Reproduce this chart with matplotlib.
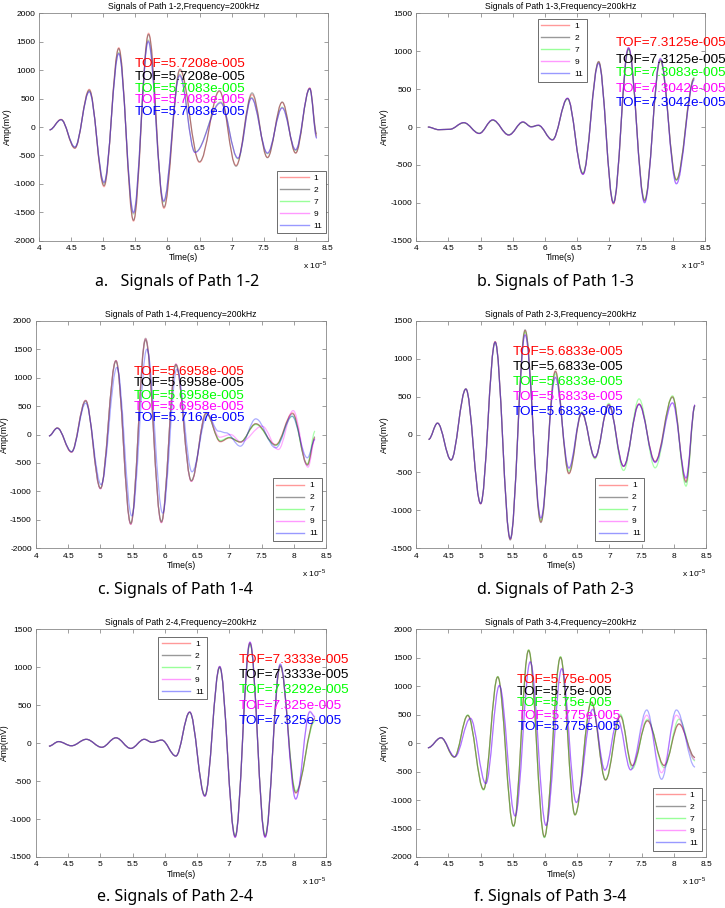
import matplotlib
matplotlib.use('Agg')
import matplotlib.pyplot as plt
from matplotlib.path import Path
from matplotlib.patches import PathPatch
from matplotlib.lines import Line2D

plt.rcParams['font.family'] = ['Liberation Sans', 'DejaVu Sans']
plt.rcParams['mathtext.fontset'] = 'custom'
plt.rcParams['mathtext.rm'] = 'Liberation Sans'

# sensor labels and colours
labels = ['1', '2', '7', '9', '11']
colors = ['#ff0000', '#000000', '#00ff00', '#ff00ff', '#0000ff']

# x ticks (x 1e-5 s)
x_ticks = [4, 4.5, 5, 5.5, 6, 6.5, 7, 7.5, 8, 8.5]
x_ticklabels = ['4', '4.5', '5', '5.5', '6', '6.5', '7', '7.5', '8', '8.5']

# ---- Path 1-2 : extrema of the signals, time in 1e-5 s, amp in mV
t12_a = [4.16, 4.34, 4.555, 4.78, 5.01, 5.24, 5.47, 5.705, 5.945, 6.195, 6.50, 6.81, 7.07, 7.32, 7.56, 7.79, 8.0, 8.22, 8.33]
t12_b = [4.16, 4.34, 4.555, 4.78, 5.01, 5.24, 5.47, 5.70, 5.94, 6.19, 6.43, 6.83, 7.10, 7.31, 7.56, 7.79, 8.0, 8.22, 8.33]
a12_1 = [-50, 135, -375, 663, -1050, 1395, -1655, 1650, -1430, 1000, -622, 628, -675, 570, -534, 434, -460, 687, -150]
a12_2 = [-50, 130, -370, 650, -1030, 1380, -1640, 1630, -1410, 1020, -610, 640, -690, 600, -540, 440, -455, 680, -120]
a12_7 = [-50, 130, -355, 630, -990, 1310, -1530, 1530, -1320, 930, -440, 440, -560, 520, -470, 350, -410, 670, -180]
a12_9 = [-50, 130, -355, 625, -985, 1300, -1520, 1520, -1310, 920, -450, 430, -550, 510, -460, 340, -400, 680, -190]
a12_11 = [-50, 128, -350, 620, -970, 1290, -1500, 1500, -1300, 900, -446, 422, -546, 505, -458, 334, -400, 675, -200]
tof12 = ['5.7208e-005', '5.7208e-005', '5.7083e-005', '5.7083e-005', '5.7083e-005']

# ---- Path 1-3
t13 = [4.18, 4.35, 4.52, 4.74, 4.98, 5.19, 5.44, 5.66, 5.79, 5.90, 6.12, 6.355, 6.595, 6.84, 7.07, 7.305, 7.555, 7.80, 8.05, 8.33]
a13_1 = [0, -35, -30, 57, -85, 92, -105, 65, 5, 22, -170, 378, -620, 860, -1015, 1040, -965, 880, -690, 640]
a13_2 = [0, -35, -30, 57, -85, 92, -105, 65, 5, 22, -170, 375, -615, 865, -1005, 1030, -975, 885, -700, 650]
a13_7 = [0, -35, -30, 55, -80, 90, -100, 62, 5, 20, -165, 370, -605, 850, -990, 1020, -960, 870, -700, 640]
a13_9 = [0, -35, -30, 58, -85, 95, -105, 68, 0, 25, -170, 380, -625, 845, -1000, 1050, -995, 900, -745, 630]
a13_11 = [0, -35, -30, 58, -85, 95, -105, 68, 0, 25, -170, 380, -625, 840, -1000, 1045, -1000, 905, -750, 620]
tof13 = ['7.3125e-005', '7.3125e-005', '7.3083e-005', '7.3042e-005', '7.3042e-005']

# ---- Path 1-4
t14_a = [4.2, 4.33, 4.55, 4.77, 5.0, 5.24, 5.47, 5.70, 5.945, 6.17, 6.41, 6.64, 6.86, 7.0, 7.17, 7.41, 7.72, 7.98, 8.21, 8.33]
t14_9 = [4.2, 4.33, 4.55, 4.77, 5.0, 5.24, 5.47, 5.70, 5.945, 6.17, 6.41, 6.64, 6.85, 7.02, 7.18, 7.51, 7.76, 7.99, 8.22, 8.33]
t14_11 = [4.2, 4.33, 4.555, 4.77, 5.01, 5.255, 5.485, 5.72, 5.965, 6.185, 6.42, 6.66, 6.83, 6.95, 7.17, 7.41, 7.72, 7.97, 8.21, 8.33]
a14_1 = [-25, 115, -310, 600, -950, 1300, -1575, 1680, -1545, 1235, -819, 380, -129, -60, -135, 187, -175, 380, -526, -60]
a14_2 = [-25, 115, -305, 590, -945, 1290, -1560, 1660, -1530, 1225, -810, 370, -120, -55, -130, 190, -185, 365, -540, -40]
a14_7 = [-25, 115, -305, 595, -945, 1295, -1570, 1690, -1540, 1230, -815, 375, -105, -50, -130, 175, -193, 320, -515, 58]
a14_9 = [-25, 115, -310, 600, -955, 1300, -1580, 1690, -1550, 1240, -825, 385, -47, 0, -130, 146, -263, 421, -573, -80]
a14_11 = [-25, 110, -300, 550, -880, 1180, -1430, 1500, -1380, 1150, -655, 350, 60, 30, -205, 275, -234, 322, -409, -88]
tof14 = ['5.6958e-005', '5.6958e-005', '5.6958e-005', '5.6958e-005', '5.7167e-005']

# ---- Path 2-3
t23 = [4.19, 4.33, 4.54, 4.77, 5.0, 5.225, 5.46, 5.69, 5.935, 6.16, 6.37, 6.57, 6.775, 6.99, 7.22, 7.46, 7.71, 7.98, 8.19, 8.33]
a23_1 = [-65, 150, -335, 600, -915, 1225, -1380, 1370, -1150, 840, -518, 285, -307, 395, -417, 404, -351, 500, -614, 386]
a23_2 = [-65, 150, -335, 600, -910, 1220, -1390, 1380, -1160, 830, -510, 280, -300, 390, -420, 400, -360, 490, -630, 380]
a23_7 = [-65, 150, -335, 600, -905, 1215, -1370, 1350, -1130, 800, -480, 300, -320, 410, -474, 470, -439, 510, -680, 380]
a23_9 = [-65, 150, -335, 600, -910, 1220, -1375, 1320, -1100, 760, -445, 290, -305, 390, -420, 400, -370, 417, -580, 390]
a23_11 = [-65, 150, -335, 600, -910, 1215, -1370, 1310, -1100, 750, -440, 290, -300, 385, -415, 395, -365, 417, -570, 390]
tof23 = ['5.6833e-005'] * 5

# ---- Path 2-4
t24_a = [4.2, 4.35, 4.55, 4.78, 5.02, 5.24, 5.47, 5.68, 5.80, 5.95, 6.17, 6.385, 6.62, 6.85, 7.09, 7.32, 7.555, 7.79, 8.03, 8.33]
t24_b = [4.2, 4.35, 4.55, 4.78, 5.02, 5.24, 5.47, 5.68, 5.80, 5.95, 6.17, 6.385, 6.62, 6.85, 7.09, 7.32, 7.555, 7.79, 8.03, 8.25, 8.33]
a24_1 = [-40, 20, -35, 50, -55, 70, -70, 50, 10, 40, -170, 410, -697, 1008, -1236, 1324, -1232, 1010, -660, 330]
a24_2 = [-40, 20, -35, 50, -55, 70, -70, 50, 10, 40, -170, 405, -690, 995, -1225, 1310, -1225, 1020, -650, 320]
a24_7 = [-40, 20, -35, 50, -55, 70, -70, 50, 10, 40, -170, 405, -690, 1000, -1220, 1305, -1210, 1020, -630, 290]
a24_9 = [-40, 20, -35, 50, -55, 70, -70, 50, 10, 40, -170, 410, -700, 1010, -1240, 1330, -1240, 1040, -740, 420, 350]
a24_11 = [-40, 20, -35, 50, -55, 70, -70, 50, 10, 40, -170, 410, -700, 1010, -1240, 1330, -1240, 1040, -735, 410, 340]
tof24 = ['7.3333e-005', '7.3333e-005', '7.3292e-005', '7.325e-005', '7.325e-005']

# ---- Path 3-4
t34_a = [4.18, 4.385, 4.59, 4.80, 5.045, 5.265, 5.51, 5.745, 5.99, 6.24, 6.465, 6.72, 6.94, 7.17, 7.355, 7.59, 7.85, 8.08, 8.33]
t34_b = [4.18, 4.385, 4.60, 4.84, 5.08, 5.29, 5.535, 5.77, 6.015, 6.26, 6.485, 6.74, 6.93, 7.13, 7.33, 7.58, 7.81, 8.04, 8.33]
a34_1 = [-82, 94, -246, 486, -814, 1165, -1458, 1633, -1645, 1510, -1262, 720, -646, 470, -390, 390, -390, 330, -255]
a34_2 = [-82, 94, -246, 486, -810, 1160, -1455, 1625, -1650, 1505, -1255, 715, -650, 480, -400, 395, -395, 340, -250]
a34_7 = [-82, 94, -246, 495, -825, 1170, -1465, 1640, -1660, 1520, -1265, 730, -640, 508, -450, 420, -430, 420, -310]
a34_9 = [-82, 94, -240, 440, -714, 1013, -1282, 1428, -1446, 1311, -1046, 600, -480, 420, -470, 490, -520, 490, -290]
a34_11 = [-82, 94, -240, 433, -710, 1010, -1280, 1428, -1446, 1305, -1040, 590, -470, 410, -470, 582, -635, 582, -420]
tof34 = ['5.75e-005', '5.75e-005', '5.75e-005', '5.775e-005', '5.775e-005']


def wave(ax, t, a, color):
    # smooth line through the read extrema (flat tangent at each extremum)
    k = 0.3634
    verts = [(t[0], a[0])]
    codes = [Path.MOVETO]
    for i in range(len(t) - 1):
        d = t[i + 1] - t[i]
        verts += [(t[i] + k * d, a[i]), (t[i + 1] - k * d, a[i + 1]), (t[i + 1], a[i + 1])]
        codes += [Path.CURVE4] * 3
    ax.add_patch(PathPatch(Path(verts, codes), fill=False, edgecolor=color,
                           lw=0.9, alpha=0.33))


def panel(rect, path, series, ylim, tofs, tof_x, tof_y, leg_loc, leg_anchor):
    ax = fig.add_axes(rect)
    for (t, a), c in zip(series, colors):
        wave(ax, t, a, c)
    ax.set_xlim(4, 8.5)
    ax.set_ylim(-ylim, ylim)
    ax.set_xticks(x_ticks)
    ax.set_xticklabels(x_ticklabels)
    yt = list(range(-ylim, ylim + 1, 500))
    ax.set_yticks(yt)
    ax.set_yticklabels([str(v) for v in yt])
    ax.tick_params(direction='in', top=True, right=True, length=3, width=0.5,
                   color='#777777', labelsize=6, pad=3)
    for s in ax.spines.values():
        s.set_color('#888888')
        s.set_linewidth(0.6)
    ax.set_title(f'Signals of Path {path},Frequency=200kHz', fontsize=6.2, pad=3)
    ax.set_xlabel('Time(s)', fontsize=6.2, labelpad=1)
    ax.set_ylabel('Amp(mV)', fontsize=6.2, labelpad=1)
    ax.text(1.0, -0.107, r'x 10$^{\mathrm{-5}}$', transform=ax.transAxes,
            ha='right', va='center', fontsize=6)
    for i, (s, c) in enumerate(zip(tofs, colors)):
        ax.text(tof_x[i], tof_y[i], 'TOF=' + s, color=c, fontsize=9.7,
                ha='left', va='center', zorder=5)
    handles = [Line2D([], [], color=c, lw=1.0, alpha=0.4) for c in colors]
    leg = ax.legend(handles, labels, loc=leg_loc, bbox_to_anchor=leg_anchor,
                    fontsize=6, fancybox=False, framealpha=1, edgecolor='#555555',
                    handlelength=3.4, handletextpad=0.6, labelspacing=0.5,
                    borderpad=0.4, borderaxespad=0)
    leg.get_frame().set_linewidth(0.6)
    return ax


fig = plt.figure(figsize=(7.25, 9.08), dpi=100)

panel([0.0542, 0.7349, 0.3978, 0.2504], '1-2',
      [(t12_a, a12_1), (t12_a, a12_2), (t12_b, a12_7), (t12_b, a12_9), (t12_b, a12_11)],
      2000, tof12, [5.49] * 5, [1108, 874, 663, 475, 270], 'lower right', (0.994, 0.033))
panel([0.5742, 0.7349, 0.3986, 0.2504], '1-3',
      [(t13, a13_1), (t13, a13_2), (t13, a13_7), (t13, a13_9), (t13, a13_11)],
      1500, tof13, [7.11] * 5, [1104, 884, 708, 497, 312], 'upper left', (0.42, 0.975))
panel([0.0497, 0.3961, 0.4000, 0.2507], '1-4',
      [(t14_a, a14_1), (t14_a, a14_2), (t14_a, a14_7), (t14_9, a14_9), (t14_11, a14_11)],
      2000, tof14, [5.51, 5.51, 5.51, 5.51, 5.53], [1104, 900, 682, 489, 284],
      'lower right', (0.985, 0.033))
panel([0.5742, 0.3961, 0.3996, 0.2507], '2-3',
      [(t23, a23_1), (t23, a23_2), (t23, a23_7), (t23, a23_9), (t23, a23_11)],
      1500, tof23, [5.50] * 5, [1092, 894, 696, 490, 292], 'lower left', (0.618, 0.033))
panel([0.0497, 0.0562, 0.4000, 0.2508], '2-4',
      [(t24_a, a24_1), (t24_a, a24_2), (t24_a, a24_7), (t24_b, a24_9), (t24_b, a24_11)],
      1500, tof24, [7.14] * 5, [1096, 894, 701, 490, 297], 'upper left', (0.422, 0.9675))
panel([0.5742, 0.0562, 0.3996, 0.2508], '3-4',
      [(t34_a, a34_1), (t34_a, a34_2), (t34_a, a34_7), (t34_b, a34_9), (t34_b, a34_11)],
      2000, tof34, [5.56, 5.56, 5.56, 5.58, 5.58], [1110, 905, 701, 478, 290],
      'lower right', (0.986, 0.028))

captions = ['a.   Signals of Path 1-2', 'b. Signals of Path 1-3', 'c. Signals of Path 1-4',
            'd. Signals of Path 2-3', 'e. Signals of Path 2-4', 'f. Signals of Path 3-4']
cap_pos = [(176.7, 282), (555.3, 282), (175.8, 590), (555.3, 590), (175.3, 897), (550.7, 897)]
for txt, (px, py) in zip(captions, cap_pos):
    fig.text(px / 725, 1 - py / 908, txt, ha='center', va='center', fontsize=11.5,
             family=['Noto Sans', 'DejaVu Sans'])

fig.savefig('out.png', dpi=100)
